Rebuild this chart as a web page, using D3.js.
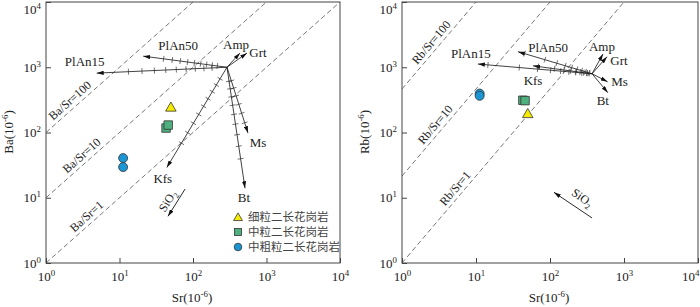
<!DOCTYPE html>
<html>
<head>
<meta charset="utf-8">
<script src="https://cdn.jsdelivr.net/npm/d3@7"></script>
<style>
  body { margin: 0; background: #fff; }
  text { font-family: "Liberation Serif", "Times New Roman", serif; fill: #222; }
  .cn { font-family: "Noto Sans CJK SC", sans-serif; fill: #444; }
</style>
</head>
<body>
<div id="chart"></div>
<script>
// ---- data ----
var decades = [1, 10, 100, 1000, 10000];
var rockTypes = ["细粒二长花岗岩", "中粒二长花岗岩", "中粗粒二长花岗岩"];

// samples: Sr, Ba, Rb (ppm)
var fineSr = [50], fineBa = [245], fineRb = [195];
var mediumSr = [43, 46], mediumBa = [117, 130], mediumRb = [312, 308];
var coarseSr = [11.2, 11.2], coarseBa = [40.5, 29.5], coarseRb = [395, 365];

// ratio reference lines (start / end points in data units)
var baRatioNames = ["Ba/Sr=1", "Ba/Sr=10", "Ba/Sr=100"];
var baRatioStart = [[1, 1], [1, 10], [1, 100]];
var baRatioEnd = [[10000, 10000], [1000, 10000], [100, 10000]];
var baRatioLabelSr = [4.2, 3.6, 2.5];

var rbRatioNames = ["Rb/Sr=1", "Rb/Sr=10", "Rb/Sr=100"];
var rbRatioStart = [[1, 1], [1, 21.5], [1, 464]];
var rbRatioEnd = [[1000, 10000], [100, 10000], [10, 10000]];
var rbRatioLabelSr = [6.3, 3.4, 3.0];

// fractionation vectors
var baOrigin = [290, 1000];
var baVecNames = ["PlAn15", "PlAn50", "Amp", "Grt", "Ms", "Bt", "Kfs"];
var baVecEndSr = [4.9, 21, 436, 543, 560, 510, 44];
var baVecEndBa = [813, 1480, 1650, 1650, 98, 14, 29];
var baVecFend = [0.4, 0.4, null, null, 0.6, 0.4, 0.4];

var rbOrigin = [370, 795];
var rbVecNames = ["PlAn15", "PlAn50", "Kfs", "Amp", "Grt", "Ms", "Bt"];
var rbVecEndSr = [10.6, 37, 59, 520, 590, 600, 605];
var rbVecEndRb = [1120, 1730, 1050, 1600, 1450, 600, 408];
var rbVecFend = [0.08, 0.08, 0.08, null, null, null, null];

var leftTickF = [0.9, 0.85, 0.8, 0.75, 0.7, 0.65, 0.6, 0.55, 0.5];
var rightTickF = [0.9, 0.8, 0.7, 0.6, 0.5, 0.4, 0.3, 0.2, 0.1];

// SiO2 trend arrows
var baSiO2 = [[78, 13.6], [45.7, 5.2]];
var rbSiO2 = [[370, 4.9], [113, 12.1]];

// ---- layout ----
var baLabelOffset = {PlAn15: [-12, -7], PlAn50: [35, -6], Amp: [-4, -4], Grt: [11, 4],
                     Ms: [10, 14], Bt: [-1, 14], Kfs: [-4, 15]};
var rbLabelOffset = {PlAn15: [-7, -6], PlAn50: [30, 0], Kfs: [0, 19], Amp: [-1, -3],
                     Grt: [12, 8], Ms: [12, 4], Bt: [-5, 12]};

var svg = d3.select("#chart").append("svg")
    .attr("width", 700)
    .attr("height", 307);

svg.append("defs").append("marker")
    .attr("id", "arrow")
    .attr("viewBox", "0 0 10 6")
    .attr("refX", 10)
    .attr("refY", 3)
    .attr("markerWidth", 7)
    .attr("markerHeight", 4.2)
    .attr("markerUnits", "userSpaceOnUse")
    .attr("orient", "auto")
    .append("path")
    .attr("d", "M0,0L10,3L0,6Z")
    .attr("fill", "#111");

function superText(sel, base, exp, tail) {
    sel.text(base);
    sel.append("tspan").attr("dy", -5).attr("font-size", "0.68em").text(exp);
    if (tail) sel.append("tspan").attr("dy", 5).text(tail);
}

function logLerp(a, b, t) {
    return [a[0] * Math.pow(b[0] / a[0], t), a[1] * Math.pow(b[1] / a[1], t)];
}

function drawPanel(p) {
    var x = d3.scaleLog().domain([1, 10000]).range(p.xRange);
    var y = d3.scaleLog().domain([1, 10000]).range([263, 2]);
    var g = svg.append("g");

    // ratio lines
    p.ratioNames.forEach(function(name, i) {
        var s = p.ratioStart[i], e = p.ratioEnd[i];
        g.append("line")
            .attr("x1", x(s[0])).attr("y1", y(s[1]))
            .attr("x2", x(e[0])).attr("y2", y(e[1]))
            .attr("stroke", "#555")
            .attr("stroke-width", 0.8)
            .attr("stroke-dasharray", "5,3");
        var ang = Math.atan2(y(e[1]) - y(s[1]), x(e[0]) - x(s[0]));
        var t = Math.log(p.ratioLabelSr[i] / s[0]) / Math.log(e[0] / s[0]);
        var pt = logLerp(s, e, t);
        g.append("text")
            .attr("transform", "translate(" + x(pt[0]) + "," + y(pt[1]) + ") rotate(" + (ang * 180 / Math.PI) + ")")
            .attr("y", -4)
            .attr("text-anchor", "middle")
            .attr("font-size", 12)
            .text(name);
    });

    // vectors
    var o = p.origin;
    p.vecNames.forEach(function(name, i) {
        var e = [p.vecEndX[i], p.vecEndY[i]];
        var x0 = x(o[0]), y0 = y(o[1]), x1 = x(e[0]), y1 = y(e[1]);
        g.append("line")
            .attr("x1", x0).attr("y1", y0)
            .attr("x2", x1).attr("y2", y1)
            .attr("stroke", "#111")
            .attr("stroke-width", 0.8)
            .attr("marker-end", "url(#arrow)");
        var len = Math.hypot(x1 - x0, y1 - y0);
        var nx = -(y1 - y0) / len, ny = (x1 - x0) / len;
        if (p.vecFend[i]) {
            p.tickF.filter(function(f) { return f > p.vecFend[i]; }).forEach(function(f) {
                var pt = logLerp(o, e, Math.log(f) / Math.log(p.vecFend[i]));
                var px = x(pt[0]), py = y(pt[1]);
                g.append("line")
                    .attr("x1", px - 3 * nx).attr("y1", py - 3 * ny)
                    .attr("x2", px + 3 * nx).attr("y2", py + 3 * ny)
                    .attr("stroke", "#333")
                    .attr("stroke-width", 0.7);
            });
        }
        var off = p.labelOffset[name];
        g.append("text")
            .attr("x", x1 + off[0])
            .attr("y", y1 + off[1])
            .attr("text-anchor", "middle")
            .attr("font-size", 13)
            .text(name);
    });

    // SiO2 trend
    var a = p.sio2[0], b = p.sio2[1];
    g.append("line")
        .attr("x1", x(a[0])).attr("y1", y(a[1]))
        .attr("x2", x(b[0])).attr("y2", y(b[1]))
        .attr("stroke", "#111")
        .attr("stroke-width", 0.9)
        .attr("marker-end", "url(#arrow)");
    var sio2Text = g.append("text")
        .attr("transform", "translate(" + p.sio2Label[0] + "," + p.sio2Label[1] + ") rotate(" + p.sio2Label[2] + ")")
        .attr("text-anchor", "middle")
        .attr("font-size", 12)
        .text("SiO");
    sio2Text.append("tspan").attr("dy", 3).attr("font-size", "0.68em").text("2");

    // samples
    var tri = d3.symbol().type(d3.symbolTriangle).size(48);
    var sq = d3.symbol().type(d3.symbolSquare).size(72);
    p.mediumX.forEach(function(v, i) {
        g.append("path")
            .attr("d", sq)
            .attr("transform", "translate(" + x(v) + "," + y(p.mediumY[i]) + ")")
            .attr("fill", "#4fb07f").attr("stroke", "#333").attr("stroke-width", 0.8);
    });
    p.coarseX.forEach(function(v, i) {
        g.append("circle")
            .attr("cx", x(v)).attr("cy", y(p.coarseY[i])).attr("r", 4.5)
            .attr("fill", "#1b96d4").attr("stroke", "#333").attr("stroke-width", 0.8);
    });
    p.fineX.forEach(function(v, i) {
        g.append("path")
            .attr("d", tri)
            .attr("transform", "translate(" + x(v) + "," + (y(p.fineY[i]) + 1) + ")")
            .attr("fill", "#f6ec00").attr("stroke", "#333").attr("stroke-width", 0.8);
    });

    // frame
    g.append("rect")
        .attr("x", p.xRange[0]).attr("y", 2)
        .attr("width", p.xRange[1] - p.xRange[0]).attr("height", 261)
        .attr("fill", "none").attr("stroke", "#444").attr("stroke-width", 1);

    // axes with inward ticks
    var xa = g.append("g")
        .attr("transform", "translate(0,263)")
        .call(d3.axisBottom(x).tickValues(decades).tickSizeInner(-5).tickSizeOuter(0).tickPadding(9));
    var ya = g.append("g")
        .attr("transform", "translate(" + p.xRange[0] + ",0)")
        .call(d3.axisLeft(y).tickValues(decades).tickSizeInner(-5).tickSizeOuter(0).tickPadding(5));
    [xa, ya].forEach(function(ax) {
        ax.select(".domain").remove();
        ax.selectAll(".tick line").attr("stroke", "#444");
        ax.selectAll(".tick text")
            .attr("font-size", 13)
            .attr("font-family", "Liberation Serif")
            .attr("fill", "#222")
            .each(function(d) {
                superText(d3.select(this), "10", String(Math.round(Math.log10(d))));
            });
    });
    ya.selectAll(".tick text").filter(function(d) { return d === 10000; }).attr("y", 7);
    if (p.xRange[1] > 690) {
        xa.selectAll(".tick text").filter(function(d) { return d === 10000; })
            .attr("text-anchor", "end").attr("x", 699 - p.xRange[1]);
    }

    // axis titles
    superText(g.append("text")
        .attr("x", (p.xRange[0] + p.xRange[1]) / 2 - 1)
        .attr("y", 302)
        .attr("text-anchor", "middle")
        .attr("font-size", 13), "Sr(10", "-6", ")");
    superText(g.append("text")
        .attr("transform", "translate(" + (p.xRange[0] - 33) + ",132) rotate(-90)")
        .attr("text-anchor", "middle")
        .attr("font-size", 13), p.yName + "(10", "-6", ")");

    return {x: x, y: y, g: g};
}

var left = drawPanel({
    xRange: [46, 340], yName: "Ba",
    ratioNames: baRatioNames, ratioStart: baRatioStart, ratioEnd: baRatioEnd, ratioLabelSr: baRatioLabelSr,
    origin: baOrigin, vecNames: baVecNames, vecEndX: baVecEndSr, vecEndY: baVecEndBa,
    vecFend: baVecFend, tickF: leftTickF, labelOffset: baLabelOffset,
    sio2: baSiO2, sio2Label: [171, 203, -58],
    fineX: fineSr, fineY: fineBa, mediumX: mediumSr, mediumY: mediumBa, coarseX: coarseSr, coarseY: coarseBa
});

drawPanel({
    xRange: [402, 698], yName: "Rb",
    ratioNames: rbRatioNames, ratioStart: rbRatioStart, ratioEnd: rbRatioEnd, ratioLabelSr: rbRatioLabelSr,
    origin: rbOrigin, vecNames: rbVecNames, vecEndX: rbVecEndSr, vecEndY: rbVecEndRb,
    vecFend: rbVecFend, tickF: rightTickF, labelOffset: rbLabelOffset,
    sio2: rbSiO2, sio2Label: [580, 201, 35],
    fineX: fineSr, fineY: fineRb, mediumX: mediumSr, mediumY: mediumRb, coarseX: coarseSr, coarseY: coarseRb
});

// legend (left panel)
var legend = left.g.append("g").attr("transform", "translate(238,217)");
rockTypes.forEach(function(name, i) {
    var row = legend.append("g").attr("transform", "translate(0," + (i * 15) + ")");
    if (i === 0) {
        row.append("path").attr("d", d3.symbol().type(d3.symbolTriangle).size(34)).attr("transform", "translate(0,1)")
            .attr("fill", "#f6ec00").attr("stroke", "#333").attr("stroke-width", 0.8);
    } else if (i === 1) {
        row.append("rect").attr("x", -3.5).attr("y", -3.5).attr("width", 7).attr("height", 7)
            .attr("fill", "#4fb07f").attr("stroke", "#333").attr("stroke-width", 0.8);
    } else {
        row.append("circle").attr("r", 3.8)
            .attr("fill", "#1b96d4").attr("stroke", "#333").attr("stroke-width", 0.8);
    }
    row.append("text")
        .attr("class", "cn")
        .attr("x", 10)
        .attr("y", 4)
        .attr("font-size", 11.5)
        .text(name);
});
</script>
</body>
</html>
